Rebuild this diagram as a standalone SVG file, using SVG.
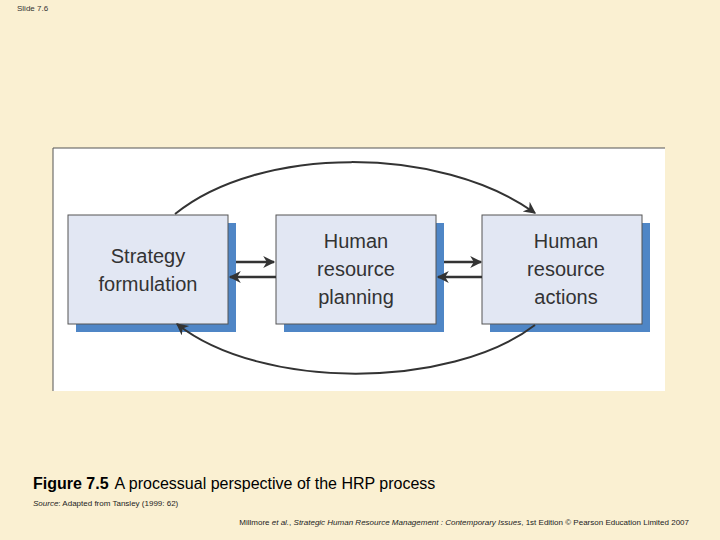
<svg xmlns="http://www.w3.org/2000/svg" width="720" height="540" viewBox="0 0 720 540">
<style>
.box{fill:#e2e7f3;stroke:#555;stroke-width:1}
.sh{fill:#4f86c6}
.lbl{font-family:"Liberation Sans",Arial,sans-serif;font-size:20px;fill:#333;text-anchor:middle}
.ln{stroke:#333;stroke-width:2.5;fill:none}
.arc{stroke:#333;stroke-width:2;fill:none}
</style>
<defs>
<marker id="ah2" viewBox="0 0 10 10" refX="9" refY="5" markerWidth="16" markerHeight="12" orient="auto" markerUnits="userSpaceOnUse"><path d="M0,0 L10,5 L0,10 L3,5 z" fill="#333"/></marker></defs>
<rect width="720" height="540" fill="#faf0d2"/>
<text x="17" y="11" font-family="Liberation Sans,Arial,sans-serif" font-size="8" fill="#333">Slide 7.6</text>
<rect x="53" y="148" width="612" height="243" fill="#fff"/>
<path d="M53,391 V148 H665" stroke="#555" stroke-width="1" fill="none"/>
<g id="n1"><rect class="sh" x="76" y="223" width="160" height="109"/><rect class="box" x="68" y="215" width="160" height="109"/>
<text class="lbl" x="148" y="263">Strategy</text><text class="lbl" x="148" y="291">formulation</text></g>
<g id="n2"><rect class="sh" x="284" y="223" width="160" height="109"/><rect class="box" x="276" y="215" width="160" height="109"/>
<text class="lbl" x="356" y="248">Human</text><text class="lbl" x="356" y="276">resource</text><text class="lbl" x="356" y="304">planning</text></g>
<g id="n3"><rect class="sh" x="490" y="223" width="160" height="109"/><rect class="box" x="482" y="215" width="160" height="109"/>
<text class="lbl" x="566" y="248">Human</text><text class="lbl" x="566" y="276">resource</text><text class="lbl" x="566" y="304">actions</text></g>
<g id="connectors">
<path class="arc" d="M175,214 C260,145 440,145 535,213" marker-end="url(#ah2)"/>
<path class="arc" d="M535,325 C450,390 260,390 177,324" marker-end="url(#ah2)"/>
<line class="ln" x1="236" y1="262" x2="274" y2="262" marker-end="url(#ah2)"/>
<line class="ln" x1="276" y1="277" x2="230" y2="277" marker-end="url(#ah2)"/>
<line class="ln" x1="444" y1="262" x2="481" y2="262" marker-end="url(#ah2)"/>
<line class="ln" x1="482" y1="277" x2="438" y2="277" marker-end="url(#ah2)"/>
</g>
<text x="33" y="489" font-family="Liberation Sans,Arial,sans-serif" font-size="16" fill="#000"><tspan font-weight="bold">Figure 7.5</tspan><tspan dx="6">A processual perspective of the HRP process</tspan></text>
<text x="33" y="506" font-family="Liberation Sans,Arial,sans-serif" font-size="8" fill="#222"><tspan font-style="italic">Source</tspan>: Adapted from Tansley (1999: 62)</text>
<text x="689" y="525" text-anchor="end" font-family="Liberation Sans,Arial,sans-serif" font-size="8" fill="#222">Millmore <tspan font-style="italic">et al.</tspan>, <tspan font-style="italic">Strategic Human Resource Management : Contemporary Issues</tspan>, 1st Edition © Pearson Education Limited 2007</text>
</svg>
